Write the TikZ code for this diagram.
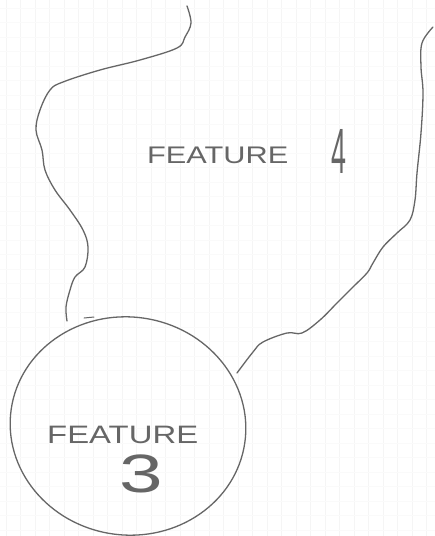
\documentclass[tikz,border=0pt]{standalone}
\usepackage{fontspec}
\usepackage{graphicx}
\setmainfont{Liberation Sans}
\usetikzlibrary{shapes.geometric}
\begin{document}
\begin{tikzpicture}[x=1pt,y=-1pt,
  pencil/.style={draw=black!60,line width=1.3pt,line cap=round,line join=round},
  hand/.style={text=black!60,inner sep=0pt,font=\fontsize{24}{24}\selectfont}]
\useasboundingbox (0,0) rectangle (435,536);
\fill[white] (0,0) rectangle (435,536);
% faint grid paper
\foreach \gx in {6,20.5,...,435} \draw[black!4,line width=0.8pt] (\gx,0) -- (\gx,536);
\foreach \gy in {8,22.5,...,536} \draw[black!2,line width=0.6pt] (0,\gy) -- (435,\gy);
% feature 3 circle
\node[ellipse,pencil,minimum width=236pt,minimum height=218pt,rotate=-8,inner sep=0pt] (c3) at (128,426) {};
% left boundary of feature 4
\draw[pencil] plot[smooth,tension=0.6] coordinates {(187,6) (191,23) (185,37) (177,48) (140,60) (100,70) (63,82) (50,90) (40,110) (36,130) (42,150) (45,170) (55,190) (70,210) (83,230) (88,247) (85,267) (75,277) (70,290) (66,307) (67,321)};
\draw[pencil,line width=1pt] (84,318) -- (94,317);
% right boundary of feature 4
\draw[pencil] plot[smooth,tension=0.6] coordinates {(433,27) (422,43) (421,67) (423,93) (421,133) (417,173) (415,200) (410,220) (397,233) (383,247) (373,263) (367,273) (353,287) (337,303) (320,320) (302,333) (287,333) (263,342) (253,352) (237,373)};
% labels
\node[hand,anchor=base west] (t4) at (147,163) {\scalebox{1.28}[1]{FEATURE}\hspace{43pt}\raisebox{-10pt}{\scalebox{0.42}[1]{\fontsize{64}{64}\selectfont 4}}};
\node[hand,anchor=base west] (t3a) at (47,443) {\scalebox{1.37}[1.05]{FEATURE}};
\node[hand,anchor=base west] (t3b) at (119,492) {\scalebox{1.45}[1]{\fontsize{54}{54}\selectfont 3}};
\end{tikzpicture}
\end{document}
